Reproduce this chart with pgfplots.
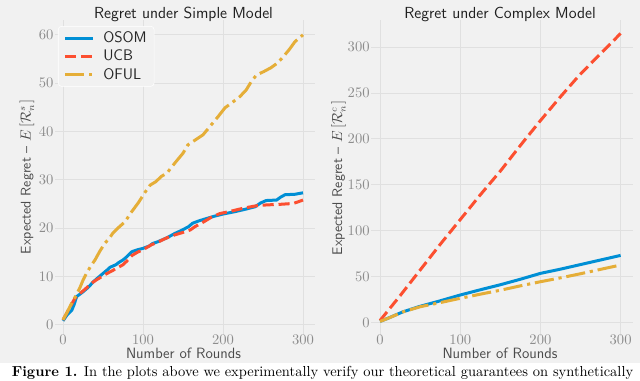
\documentclass[border=0pt]{standalone}
\usepackage{graphicx}
\usepackage{pgfplots}
\pgfplotsset{compat=1.18}

\definecolor{bg}{HTML}{F1F1F1}
\definecolor{gridc}{HTML}{E0E0E0}
\definecolor{osom}{HTML}{008FD5}
\definecolor{ucb}{HTML}{FC4F30}
\definecolor{oful}{HTML}{E5AE38}
\definecolor{tickc}{HTML}{8C8C8C}
\definecolor{labc}{HTML}{4A4A4A}

\pgfplotsset{
  five/.style={
    scale only axis,
    anchor=south west,
    axis line style={draw=none},
    tick style={draw=none},
    grid=major,
    major grid style={gridc, line width=0.75pt},
    xtick={0,100,200,300},
    ticklabel style={font=\fontsize{10.8}{12}\selectfont, text=tickc, inner sep=0pt},
    yticklabel style={anchor=east, xshift=-1pt},
    clip=false,
  },
  osomline/.style={osom, line width=2.25pt, line join=round},
  ucbline/.style={ucb, line width=2.25pt, line join=round, dash pattern=on 8.3pt off 3.6pt},
  ofulline/.style={oful, line width=2.25pt, line join=round, dash pattern=on 14.4pt off 3.6pt on 2.4pt off 3.6pt},
}

\begin{document}
\begin{tikzpicture}[x=0.75pt, y=0.75pt]
\useasboundingbox (0,0) rectangle (640,380);
\fill[white] (0,0) rectangle (640,380);
\fill[bg] (0,17) rectangle (640,380);

% left panel: simple model
\begin{axis}[five,
  at={(41.25pt,33.525pt)},
  width=195pt, height=236.2pt,
  xmin=-10, xmax=315, ymin=-2.2, ymax=63,
  ytick={0,10,20,30,40,50,60},
  xticklabel style={anchor=center, yshift=-3.7pt},
  legend style={at={(0.0115,0.982)}, anchor=north west, fill=bg, draw=white,
    rounded corners=2.5pt, font=\sffamily\fontsize{11.5}{13}\selectfont,
    text=black!85, inner xsep=4pt, inner ysep=2.5pt, row sep=1pt,
    nodes={inner sep=1.5pt}},
  legend cell align=left,
  legend image code/.code={\draw[#1] (0pt,0pt) -- (21pt,0pt); \path (26pt,0pt);},
]
\addplot[osomline] coordinates {
(0,0.8) (5,2) (11,3) (14,4.2) (17,5.8) (25,6.8) (32,7.8) (38,8.9) (45,9.9)
(50,10.6) (55,11.3) (59,11.9) (66,12.4) (70,12.9) (75,13.4) (80,14.1) (86,15.1)
(93,15.5) (100,15.8) (108,16.3) (112,16.8) (119,17.2) (130,18) (140,18.9)
(148,19.5) (157,20.3) (162,21) (170,21.5) (180,22) (188,22.4) (200,22.9)
(215,23.4) (228,23.9) (240,24.4) (247,25.2) (254,25.7) (267,25.8) (272,26.4)
(277.5,26.9) (290,27) (300,27.3)
};
\addlegendentry{OSOM}
\addplot[ucbline] coordinates {
(0,1) (5,2.5) (11,4.3) (15,5.5) (20,6.3) (28,7.4) (35,8.5) (42,9.3) (50,10.1)
(55,10.6) (62,11.2) (67,11.7) (75,12.4) (80,13.2) (86,14.3) (93,15) (100,15.5)
(110,16.5) (120,17.2) (130,18) (140,18.6) (150,19.1) (159,19.6) (165,20.3)
(175,21.2) (185,22.2) (196,23) (210,23.5) (225,24.1) (241,24.6) (255,24.8)
(270,24.9) (288,25.1) (295,25.5) (300,25.8)
};
\addlegendentry{UCB}
\addplot[ofulline] coordinates {
(0,1) (5,2.5) (11,4.5) (16,6) (21,7.6) (25,9.2) (29.6,10.7) (35,12.2) (40,13.4)
(46,15.2) (52.5,16.9) (58,17.9) (62.5,19) (70,20.2) (77.5,21.3) (85,23.2)
(94,25.2) (102.5,27.4) (109,28.9) (116,29.6) (123,30.7) (130,31.4) (140,33.5)
(150,35.5) (156,37.2) (165,38.2) (175,39.3) (185,41.3) (194,43.1) (202.5,44.9)
(210,45.8) (221,47.2) (229,48.6) (236,50.5) (242,51.7) (251,52.4) (260,53.2)
(267.5,54.1) (275,55.4) (283,57) (290,58.6) (300,60)
};
\addlegendentry{OFUL}
\end{axis}

% right panel: complex model
\begin{axis}[five,
  at={(278.4pt,32.925pt)},
  width=196.1pt, height=237.3pt,
  xmin=-11, xmax=315, ymin=-15, ymax=330,
  ytick={0,50,100,150,200,250,300},
  xticklabel style={anchor=center, yshift=-3.1pt},
]
\addplot[osomline] coordinates {
(0,1) (10,4.5) (29,11.6) (50,17.5) (71,22.5) (85,26) (100,29.8) (125,35.5)
(150,41) (175,47) (200,53.4) (225,58) (250,63) (275,68) (300,73)
};
\addplot[ucbline] coordinates {
(0,2) (25,29) (50,57) (75,85) (100,112) (125,139) (151,166) (176,194)
(200,220) (225,246) (249,270) (275,293) (300,315)
};
\addplot[ofulline] coordinates {
(0,1) (10,4.4) (29,11.5) (50,17) (75,21.5) (100,26.2) (125,30.7) (150,35)
(175,39.8) (200,44.3) (225,48.5) (250,53) (275,57.8) (300,62.5)
};
\end{axis}

% titles and axis labels
\begin{scope}[every node/.style={inner sep=0pt}]
\node[anchor=base, font=\sffamily\fontsize{12}{14}\selectfont, text=black!88] at (183.5,362) {Regret under Simple Model};
\node[anchor=base, font=\sffamily\fontsize{12}{14}\selectfont, text=black!88] at (500,362) {Regret under Complex Model};
\node[anchor=base, font=\sffamily\fontsize{11.2}{13}\selectfont, text=labc] at (183.5,21.5) {Number of Rounds};
\node[anchor=base, font=\sffamily\fontsize{11.2}{13}\selectfont, text=labc] at (500,21.5) {Number of Rounds};
\node[anchor=base, rotate=90, font=\sffamily\fontsize{10.5}{12}\selectfont, text=labc] at (30.5,203) {Expected Regret -- $E\left[\mathcal{R}_n^s\right]$};
\node[anchor=base, rotate=90, font=\sffamily\fontsize{10.5}{12}\selectfont, text=labc] at (342,202) {Expected Regret -- $E\left[\mathcal{R}_n^c\right]$};
\node[anchor=base] at (322.5,3.3) {\resizebox{466pt}{!}{\textbf{Figure 1.} In the plots above we experimentally verify our theoretical guarantees on synthetically}};
\end{scope}
\end{tikzpicture}
\end{document}
